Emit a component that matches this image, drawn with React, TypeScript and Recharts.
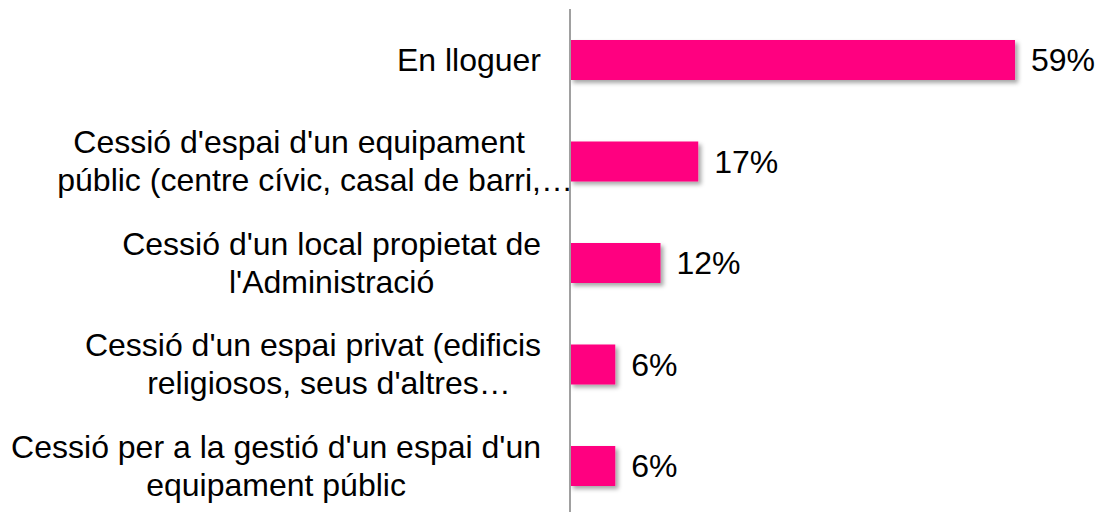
import React from 'react'
import { BarChart, Bar, XAxis, YAxis, LabelList, Rectangle } from 'recharts'

const categories = [
  'En lloguer',
  "Cessió d'espai d'un equipament\npúblic (centre cívic, casal de barri,…",
  "Cessió d'un local propietat de\nl'Administració",
  "Cessió d'un espai privat (edificis\nreligiosos, seus d'altres…",
  "Cessió per a la gestió d'un espai d'un\nequipament públic",
]
const values = [59, 17, 12, 6, 6]

const data = categories.map((name, i) => ({ name, value: values[i] }))

const FONT = '"Liberation Sans", Arial, sans-serif'
const FONT_SIZE = 32
const LINE_H = 38

let ctx: CanvasRenderingContext2D | null = null
function measure(text: string) {
  if (!ctx) ctx = document.createElement('canvas').getContext('2d')
  if (!ctx) return text.length * FONT_SIZE * 0.5
  ctx.font = `${FONT_SIZE}px ${FONT}`
  return ctx.measureText(text).width
}

// lines centred in a block whose right edge sits at the tick x;
// a trailing ellipsis hangs outside the block, as in the original
function CategoryTick({ x, y, payload }: { x?: number; y?: number; payload?: { value: string } }) {
  const lines = String(payload?.value ?? '').split('\n')
  const widths = lines.map((l) => measure(l.replace(/…$/, '')))
  const right = x ?? 0
  const cx = right - Math.max(...widths) / 2
  return (
    <g>
      {lines.map((line, i) => (
        <text
          key={i}
          x={cx - widths[i] / 2}
          y={(y ?? 0) + 11 + (i - (lines.length - 1) / 2) * LINE_H}
          textAnchor="start"
          fontFamily={FONT}
          fontSize={FONT_SIZE}
          fill="#000"
        >
          {line}
        </text>
      ))}
    </g>
  )
}

export default function App() {
  return (
    <div style={{ position: 'fixed', top: 0, left: 0, width: 1101, height: 512, overflow: 'hidden', background: '#fff' }}>
      <BarChart
        width={1101}
        height={520}
        data={data}
        layout="vertical"
        margin={{ top: 9, right: 3, bottom: 3.5, left: 0 }}
        barCategoryGap={0}
      >
        <defs>
          <filter id="barShadow" x="-10%" y="-20%" width="130%" height="160%">
            <feDropShadow dx={3} dy={3} stdDeviation={2} floodColor="#000" floodOpacity={0.35} />
          </filter>
        </defs>
        <XAxis type="number" domain={[0, 70]} hide />
        <YAxis
          type="category"
          dataKey="name"
          width={570}
          axisLine={{ stroke: '#a0a0a0', strokeWidth: 2 }}
          tickLine={false}
          tickSize={0}
          tickMargin={29}
          tick={<CategoryTick />}
          interval={0}
        />
        <Bar
          dataKey="value"
          fill="#FF0080"
          barSize={40}
          isAnimationActive={false}
          shape={(props: any) => <Rectangle {...props} filter="url(#barShadow)" />}
        >
          <LabelList
            dataKey="value"
            position="right"
            offset={16}
            formatter={(v: any) => `${v}%`}
            fontFamily={FONT}
            fontSize={FONT_SIZE}
            fill="#000"
          />
        </Bar>
      </BarChart>
    </div>
  )
}
